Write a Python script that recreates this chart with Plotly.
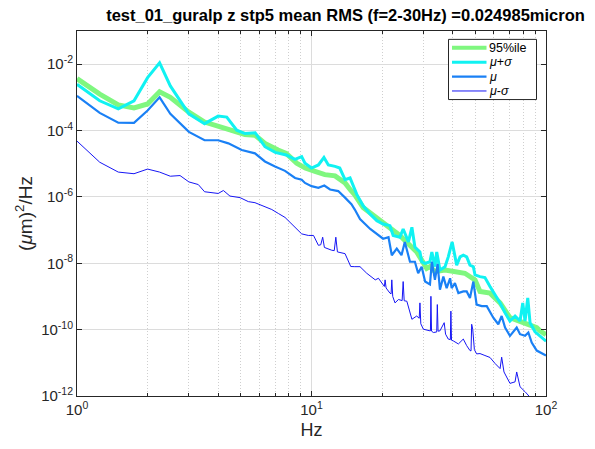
import plotly.graph_objects as go

# Frequency (Hz) / PSD ((um)^2/Hz) pairs for each statistic
f_p95 = [1.0, 1.25, 1.5, 1.75, 2.0, 2.25, 2.5, 3.0, 3.5, 4.0, 4.35, 5.2, 5.75, 6.33, 7.2,
         7.8, 8.65, 9.4, 10.35, 11.4, 12.6, 13.9, 14.6, 15.3, 16.6, 19.6, 21.6, 23.8, 28.1, 31.0,
         32.0, 33.6, 37.1, 40.9, 45.1, 49.8, 52.3, 57.7, 63.7, 70.2, 77.5, 85.5, 91.3, 94.3, 100]
psd_p95 = [3.66e-3, 1.25e-3, 5.9e-4, 4.8e-4, 6.3e-4, 1.47e-3, 1.0e-3, 3.58e-4, 1.80e-4, 1.37e-4,
           1.09e-4, 7.6e-5, 7.2e-5, 4.1e-5, 2.58e-5, 2.06e-5, 1.04e-5, 7.4e-6, 5.9e-6, 4.7e-6,
           4.3e-6, 2.64e-6, 1.67e-6, 1.16e-6, 4.8e-7, 1.92e-7, 1.21e-7, 6.9e-8, 2.19e-8, 7.0e-9,
           7.9e-9, 5.6e-9, 6.3e-9, 5.6e-9, 5.0e-9, 3.16e-9, 1.42e-9, 1.26e-9, 6.4e-10, 2.29e-10,
           1.82e-10, 1.45e-10, 1.15e-10, 9.2e-11, 7.0e-11]

f_plus = [1.0, 1.25, 1.5, 1.75, 2.0, 2.25, 2.5, 3.0, 3.5, 4.0, 4.35, 4.8, 5.2, 5.75, 6.33,
          7.0, 7.8, 8.5, 9.08, 9.38, 10.0, 10.7, 11.3, 11.8, 12.6, 13.2, 13.9, 14.6, 15.6, 16.6,
          17.8, 19.0, 20.2, 21.6, 22.3, 23.8, 24.6, 25.9, 26.8, 27.6, 29.0, 29.5, 30.5, 32.0, 32.6,
          33.6, 34.2, 35.3, 37.1, 38.3, 39.8, 41.6, 43.0, 44.4, 45.9, 47.4, 49.0, 49.8, 52.3, 54.9,
          57.7, 60.6, 63.7, 66.9, 70.2, 73.8, 77.5, 79.6, 81.4, 83.6, 85.5, 89.8, 94.3, 100]
psd_plus = [2.48e-3, 7.9e-4, 4.5e-4, 7.9e-4, 3.93e-3, 1.10e-2, 2.21e-3, 3.18e-4, 1.61e-4, 2.72e-4,
            2.54e-4, 1.02e-4, 8.1e-5, 8.6e-5, 3.26e-5, 2.2e-5, 1.83e-5, 1.35e-5, 1.64e-5, 1.04e-5,
            7.4e-6, 9.2e-6, 1.54e-5, 9.2e-6, 8.3e-6, 7.4e-6, 3.31e-6, 3.72e-6, 1.19e-6, 5.4e-7,
            3.02e-7, 1.92e-7, 1.52e-7, 1.36e-7, 6.9e-8, 6.1e-8, 1.08e-7, 4.4e-8, 1.21e-7, 3.09e-8,
            2.19e-8, 1.11e-8, 9.9e-9, 1.11e-8, 2.19e-8, 7.9e-9, 2.19e-8, 6.3e-9, 7.9e-9, 1.56e-8,
            4.4e-8, 8.8e-9, 1.56e-8, 1.75e-8, 1.56e-8, 8.8e-9, 7.9e-9, 4.45e-9, 3.96e-9, 3.7e-9,
            2.0e-9, 1.13e-9, 6.4e-10, 3.22e-10, 1.82e-10, 2.57e-10, 1.82e-10, 6.4e-10, 1.82e-10, 9.0e-10,
            1.62e-10, 8.6e-11, 6.5e-11, 4.5e-11]

f_mean = [1.0, 1.25, 1.5, 1.75, 2.0, 2.25, 2.5, 3.0, 3.5, 4.0, 4.42, 5.04, 5.74, 6.33, 6.99,
          7.71, 8.51, 9.08, 9.38, 10.0, 10.7, 11.34, 12.0, 13.0, 13.9, 14.8, 15.3, 16.1, 17.8, 19.0,
          20.2, 21.3, 22.0, 23.1, 24.2, 25.0, 26.3, 27.6, 28.5, 29.5, 30.5, 32.0, 32.6, 33.6, 34.5,
          35.3, 36.5, 37.7, 39.0, 39.6, 40.9, 42.3, 44.4, 45.9, 47.4, 49.0, 50.6, 53.2, 55.9, 59.6,
          62.6, 64.7, 66.9, 70.2, 73.8, 75.0, 77.5, 81.4, 84.1, 86.9, 91.3, 100]
psd_mean = [1.11e-3, 3.41e-4, 1.72e-4, 1.70e-4, 4.0e-4, 1.0e-3, 3.18e-4, 9.1e-5, 5.1e-5, 5.1e-5,
            4.1e-5, 2.58e-5, 2.06e-5, 1.17e-5, 8.3e-6, 6.1e-6, 3.72e-6, 3.31e-6, 2.64e-6, 2.11e-6,
            1.88e-6, 2.2e-6, 1.67e-6, 1.50e-6, 9.5e-7, 6.0e-7, 4.16e-7, 2.14e-7, 1.08e-7, 7.4e-8,
            5.5e-8, 6.1e-8, 1.75e-8, 2.75e-8, 1.75e-8, 4.4e-8, 1.11e-8, 1.11e-8, 5.0e-9, 7.9e-9,
            2.81e-9, 2.3e-9, 1.11e-8, 3.16e-9, 9.5e-9, 1.60e-9, 3.96e-9, 1.78e-9, 3.53e-9, 1.78e-9,
            2.51e-9, 1.26e-9, 1.42e-9, 1.42e-9, 9.0e-10, 2.81e-9, 5.7e-10, 5.1e-10, 5.1e-10, 2.29e-10,
            1.45e-10, 2.57e-10, 1.15e-10, 6.5e-11, 1.03e-10, 1.15e-10, 7.3e-11, 6.5e-11, 8.2e-11, 4.1e-11,
            2.34e-11, 1.66e-11]

f_minus = [1.0, 1.25, 1.5, 1.75, 2.0, 2.25, 2.5, 2.75, 3.0, 3.29, 3.5, 4.0, 4.21, 4.49, 4.96,
           5.38, 5.74, 6.33, 6.77, 7.22, 7.71, 8.10, 8.65, 9.08, 9.69, 10.2, 10.7, 10.95, 11.16, 11.35,
           12.2, 12.5, 12.7, 12.9, 13.9, 14.7, 15.3, 16.1, 17.2, 18.7, 19.3, 20.2, 20.45, 20.6, 20.8,
           21.6, 21.85, 22.0, 22.2, 22.7, 23.5, 24.35, 24.6, 24.85, 25.5, 26.8, 28.1, 28.8, 29.0, 29.25,
           30.0, 32.0, 32.15, 32.3, 32.5, 33.1, 34.2, 34.4, 34.65, 35.3, 36.8, 37.3, 38.3, 39.1, 39.3,
           39.55, 40.2, 42.3, 44.4, 45.9, 47.4, 47.9, 48.2, 48.7, 49.5, 50.6, 52.3, 54.9, 57.7, 60.6,
           63.7, 64.7, 66.2, 70.2, 73.8, 75.0, 77.5, 81.4, 85.5, 87.0]
psd_minus = [4.8e-5, 1.11e-5, 5.6e-6, 5.0e-6, 6.9e-6, 5.6e-6, 4.2e-6, 4.4e-6, 2.83e-6, 2.36e-6,
             1.43e-6, 1.27e-6, 1.56e-6, 1.06e-6, 9.5e-7, 7.2e-7, 6.7e-7, 5.1e-7, 4.17e-7, 3.17e-7,
             2.41e-7, 1.71e-7, 1.06e-7, 7.7e-8, 6.9e-8, 6.9e-8, 3.48e-8, 3.6e-8, 6.1e-8, 3.0e-8,
             2.47e-8, 2.4e-8, 6.1e-8, 2.2e-8, 1.95e-8, 8.0e-9, 7.9e-9, 7.9e-9, 5.0e-9, 3.16e-9,
             3.53e-9, 2.2e-9, 2.0e-9, 3.16e-9, 1.8e-9, 1.26e-9, 1.2e-9, 3.16e-9, 1.0e-9, 6.4e-10,
             8.1e-10, 7.5e-10, 2.81e-9, 7.4e-10, 7.2e-10, 2.05e-10, 2.57e-10, 2.2e-10, 6.4e-10, 1.5e-10,
             1.03e-10, 9.2e-11, 9.2e-11, 1.01e-9, 9.0e-11, 8.2e-11, 8.5e-11, 5.7e-10, 9.0e-11, 9.2e-11,
             1.62e-10, 7.3e-11, 5.2e-11, 5.0e-11, 3.61e-10, 4.8e-11, 4.6e-11, 3.70e-11, 5.2e-11, 3.29e-11,
             2.34e-11, 2.3e-11, 1.45e-10, 1.03e-10, 2.5e-11, 1.86e-11, 1.9e-11, 1.66e-11, 1.45e-11, 9.6e-12,
             6.7e-12, 1.48e-11, 5.3e-12, 2.4e-12, 2.67e-12, 5.3e-12, 1.90e-12, 1.35e-12, 9.5e-13, 8.0e-13]

series_names = ["95%ile", "<i>μ</i>+<i>σ</i>", "<i>μ</i>", "<i>μ</i>-<i>σ</i>"]
x_tick_vals = [1, 10, 100]
x_tick_text = ["10<sup>0</sup>", "10<sup>1</sup>", "10<sup>2</sup>"]
y_tick_vals = [1e-12, 1e-10, 1e-8, 1e-6, 1e-4, 1e-2]
y_tick_text = ["10<sup>-12</sup>", "10<sup>-10</sup>", "10<sup>-8</sup>",
               "10<sup>-6</sup>", "10<sup>-4</sup>", "10<sup>-2</sup>"]

FONT = "Liberation Sans, Arial, Helvetica, sans-serif"
AX = "#262626"
W, H = 595, 449
L, R, T, B = 77, 49, 31, 48
PW, PH = W - L - R, H - T - B

styles = [("#7ff77f", 5), ("#10f2f2", 3), ("#1a80f5", 2.2), ("#1616f5", 1)]
data = [(f_p95, psd_p95), (f_plus, psd_plus), (f_mean, psd_mean), (f_minus, psd_minus)]

fig = go.Figure()
for name, (fx, py), (col, w) in zip(series_names, data, styles):
    fig.add_trace(go.Scatter(x=fx, y=py, mode="lines", name=name, showlegend=False,
                             line=dict(color=col, width=w)))


def px_x(p):
    return (p - L) / PW


def px_y(p):
    return (H - B - p) / PH


# Boxed legend in the upper-right corner of the axes
ROW0, ROW_STEP = 48.0, 14.6
shapes = [dict(type="rect", xref="paper", yref="paper",
               x0=px_x(448.5), x1=px_x(536.5), y0=px_y(100.5), y1=px_y(39.5),
               line=dict(color=AX, width=1), fillcolor="white", layer="above")]
annotations = []
for i, (name, (col, w)) in enumerate(zip(series_names, styles)):
    yy = ROW0 + i * ROW_STEP
    shapes.append(dict(type="line", xref="paper", yref="paper",
                       x0=px_x(452), x1=px_x(486.5), y0=px_y(yy), y1=px_y(yy),
                       line=dict(color=col, width=min(w, 4)), layer="above"))
    annotations.append(dict(xref="paper", yref="paper", x=px_x(488), y=px_y(yy),
                            xanchor="left", yanchor="middle", text=name, showarrow=False,
                            borderpad=0,
                            font=dict(family=FONT, size=12.5, color="black")))

minor_x = [2, 3, 4, 5, 6, 7, 8, 9, 20, 30, 40, 50, 60, 70, 80, 90]

fig.update_layout(
    width=W, height=H, autosize=False,
    margin=dict(l=L, r=R, t=T, b=B),
    paper_bgcolor="white", plot_bgcolor="white",
    font=dict(family=FONT, color=AX, size=14),
    title=dict(text="test_01_guralp z stp5 mean RMS (f=2-30Hz) =0.024985micron",
               font=dict(family=FONT, size=16.5, color="black", weight="bold"),
               x=345.5 / W, xanchor="center", xref="container",
               y=1 - 15.5 / H, yanchor="middle", yref="container"),
    showlegend=False,
    shapes=shapes,
    annotations=annotations,
    xaxis=dict(type="log", range=[0, 2],
               tickmode="array", tickvals=x_tick_vals, ticktext=x_tick_text,
               ticks="inside", ticklen=5, tickcolor=AX, tickwidth=1,
               showline=True, linecolor=AX, linewidth=1, mirror="allticks",
               showgrid=True, gridcolor="#dcdcdc", gridwidth=1, zeroline=False,
               tickfont=dict(size=15, color=AX),
               minor=dict(tickmode="array", tickvals=minor_x, ticks="inside",
                          ticklen=3, tickcolor=AX, showgrid=True,
                          gridcolor="#cfcfcf", griddash="1px,2px", gridwidth=1),
               title=dict(text="Hz", font=dict(size=18, color=AX), standoff=6)),
    yaxis=dict(type="log", range=[-12, -1],
               tickmode="array", tickvals=y_tick_vals, ticktext=y_tick_text,
               ticks="inside", ticklen=5, tickcolor=AX, tickwidth=1,
               showline=True, linecolor=AX, linewidth=1, mirror="allticks",
               showgrid=True, gridcolor="#dcdcdc", gridwidth=1, zeroline=False,
               tickfont=dict(size=15, color=AX),
               title=dict(text="(<i>μ</i>m)<sup>2</sup>/Hz", font=dict(size=19, color=AX),
                          standoff=3)),
)

fig.write_html("out.html")
